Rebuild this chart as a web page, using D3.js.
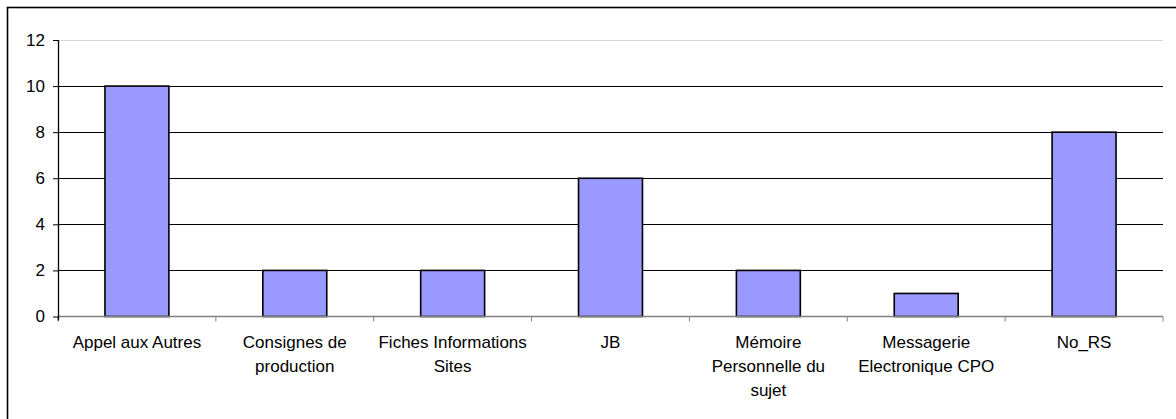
<!DOCTYPE html>
<html><head><meta charset="utf-8">
<script src="https://cdn.jsdelivr.net/npm/d3@7"></script>
<style>body{margin:0;background:#fff}svg{display:block}</style>
</head><body>
<svg id="c" width="1176" height="419"></svg>
<script>
const categories = ["Appel aux Autres","Consignes de production","Fiches Informations Sites","JB","Mémoire Personnelle du sujet","Messagerie Electronique CPO","No_RS"];
const tickLabels = [["Appel aux Autres"],["Consignes de","production"],["Fiches Informations","Sites"],["JB"],["Mémoire","Personnelle du","sujet"],["Messagerie","Electronique CPO"],["No_RS"]];
const values = [10,2,2,6,2,1,8];
const yTicks = [0,2,4,6,8,10,12];

const svg = d3.select("#c");
const L = 58, R = 1163, T = 40, B = 316.5;
const FONT = "Liberation Sans, Arial, sans-serif";
svg.append("rect").attr("x",7.5).attr("y",7.5).attr("width",1180).attr("height",430)
  .attr("fill","#fff").attr("stroke","#000").attr("stroke-width",1.6);

const x = d3.scaleBand().domain(categories).range([L,R]).padding(0);
const y = d3.scaleLinear().domain([0,12]).range([B,T]);

// gridlines
svg.append("g").selectAll("line").data(yTicks.filter(d=>d>0)).join("line")
  .attr("x1",L).attr("x2",R)
  .attr("y1",d=>Math.round(y(d))+0.5).attr("y2",d=>Math.round(y(d))+0.5)
  .attr("stroke",d=>d===12?"#d8d8d8":"#000").attr("stroke-width",1);

// bars
const bw = x.bandwidth()*0.405;
svg.append("g").selectAll("rect").data(values).join("rect")
  .attr("x",(d,i)=>x(categories[i])+x.bandwidth()/2-bw/2)
  .attr("y",d=>y(d))
  .attr("width",bw)
  .attr("height",d=>B-y(d))
  .attr("fill","#9999ff").attr("stroke","#000").attr("stroke-width",1.6);

// x axis
const xa = svg.append("g").attr("transform",`translate(0,${B})`);
xa.append("line").attr("x1",L).attr("x2",R).attr("y1",0).attr("y2",0).attr("stroke","#808080").attr("stroke-width",1.3);
const bounds = categories.map(c=>x(c)).concat([R]);
xa.selectAll("line.t").data(bounds).join("line").attr("class","t")
  .attr("x1",d=>d).attr("x2",d=>d).attr("y1",0).attr("y2",5)
  .attr("stroke","#808080").attr("stroke-width",1);
categories.forEach((c,i)=>{
  const t = xa.append("text").attr("x",x(c)+x.bandwidth()/2).attr("y",31)
    .attr("text-anchor","middle").attr("font-family",FONT)
    .attr("font-size",17).attr("fill","#000");
  tickLabels[i].forEach((ln,j)=>t.append("tspan").attr("x",x(c)+x.bandwidth()/2).attr("dy",j===0?0:24).text(ln));
});

// y axis
const ya = svg.append("g").attr("transform",`translate(${L},0)`)
  .call(d3.axisLeft(y).tickValues(yTicks).tickSize(5).tickPadding(8));
ya.select(".domain").attr("stroke","#000").attr("stroke-width",1.3).attr("d",`M0.5,${T}V${B+4}`);
ya.selectAll(".tick line").attr("stroke","#000");
ya.selectAll(".tick text").attr("font-family",FONT).attr("font-size",17).attr("fill","#000");
</script>
</body></html>
